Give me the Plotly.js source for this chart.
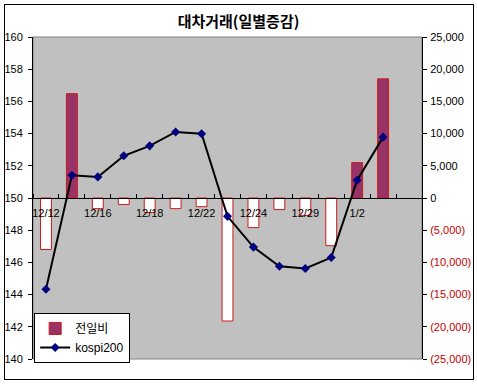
<!DOCTYPE html>
<html>
<head>
<meta charset="utf-8">
<script src="https://cdn.plot.ly/plotly-3.0.1.min.js"></script>
<style>
  html, body { margin: 0; padding: 0; background: #fff; }
  #wrap { position: relative; width: 477px; height: 384px; }
  #chart { width: 477px; height: 384px; }
  #frame { position: absolute; left: 4px; top: 4px; width: 468px; height: 374px; border: 1px solid #000; pointer-events: none; }
</style>
</head>
<body>
<div id="wrap"><div id="chart"></div><div id="frame"></div></div>
<script>
// ---- data ----
const dates = ['12/12','12/15','12/16','12/17','12/18','12/19','12/22','12/23','12/24','12/26','12/29','12/30','1/2','1/5'];
const change = [-8000, 16200, -1650, -1000, -2250, -1650, -1350, -19100, -4600, -1800, -2700, -7400, 5500, 18500];
const kospi200 = [144.33, 151.41, 151.31, 152.62, 153.24, 154.10, 153.99, 148.86, 146.95, 145.76, 145.62, 146.30, 151.10, 153.78];
const rightTicks = [-25000, -20000, -15000, -10000, -5000, 0, 5000, 10000, 15000, 20000, 25000];
const seriesNames = ['전일비', 'kospi200'];
const titleText = '대차거래(일별증감)';

// ---- derived ----
const idx = dates.map((d, i) => i);
const labelIdx = idx.filter(i => i % 2 === 0);
const labelText = labelIdx.map(i => dates[i]);
const pos = change.map(v => v > 0 ? v : null);
const neg = change.map(v => v < 0 ? v : null);
const fmt = v => {
  const s = Math.abs(v).toLocaleString('en-US');
  return v < 0 ? '<span style="color:#c00000">(' + s + ')</span>' : s;
};

const font = 'Liberation Sans, Arial, sans-serif';

const traces = [
  { type: 'bar', name: seriesNames[0], x: idx, y: pos, xaxis: 'x', yaxis: 'y', width: 0.42,
    marker: { color: '#993366', line: { color: '#cc1a1a', width: 1 } }, showlegend: true },
  { type: 'bar', name: seriesNames[0] + ' (neg)', x: idx, y: neg, xaxis: 'x', yaxis: 'y', width: 0.42,
    marker: { color: '#ffffff', line: { color: '#cc1a1a', width: 1 } }, showlegend: false },
  { type: 'scatter', mode: 'lines+markers', name: seriesNames[1], x: idx, y: kospi200, xaxis: 'x', yaxis: 'y2',
    line: { color: '#000000', width: 2 },
    marker: { symbol: 'diamond', size: 7, color: '#000080' } }
];

const layout = {
  width: 477, height: 384,
  margin: { l: 33, r: 55, t: 37, b: 25, pad: 0 },
  paper_bgcolor: '#ffffff',
  plot_bgcolor: '#c0c0c0',
  barmode: 'relative',
  showlegend: true,
  font: { family: font, size: 11, color: '#000' },
  title: { text: '<b>' + titleText + '</b>', x: 0.5, xanchor: 'center', y: 0.943, yanchor: 'middle',
           font: { family: 'Noto Sans CJK KR, sans-serif', size: 15, color: '#000' } },
  xaxis: {
    range: [-0.5, 14.5], anchor: 'free', position: 0.5,
    tickmode: 'array', tickvals: labelIdx, ticktext: labelText, ticks: '',
    ticklabelstandoff: 5,
    showline: true, linecolor: '#000', linewidth: 1,
    showgrid: false, zeroline: false,
    tickfont: { family: font, size: 11, color: '#000' },
    minor: { tickmode: 'linear', tick0: 0.5, dtick: 1, ticks: 'inside', ticklen: 4, tickcolor: '#000', tickwidth: 1, showgrid: false }
  },
  yaxis: {
    side: 'right', range: [-25000, 25000],
    tickmode: 'array', tickvals: rightTicks, ticktext: rightTicks.map(fmt),
    ticks: 'outside', ticklen: 4, tickcolor: '#000',
    ticklabelstandoff: 1,
    showline: true, linecolor: '#000', linewidth: 1,
    showgrid: false, zeroline: false,
    tickfont: { family: font, size: 11, color: '#000' }
  },
  yaxis2: {
    overlaying: 'y', side: 'left', range: [140, 160], dtick: 2, tick0: 140,
    ticks: 'outside', ticklen: 4, tickcolor: '#000',
    ticklabelstandoff: 3,
    showline: true, linecolor: '#000', linewidth: 1,
    showgrid: false, zeroline: false,
    tickfont: { family: font, size: 11, color: '#000' }
  },
  legend: {
    x: 0.003, y: 0.143, xanchor: 'left', yanchor: 'top',
    bgcolor: '#ffffff', bordercolor: '#000', borderwidth: 1,
    font: { family: 'Liberation Sans, Noto Sans CJK KR, sans-serif', size: 12, color: '#000' },
    traceorder: 'normal', itemwidth: 30
  },
  shapes: [
    { type: 'rect', xref: 'paper', yref: 'paper', x0: 0, x1: 1, y0: 0, y1: 1,
      line: { color: '#808080', width: 1 }, fillcolor: 'rgba(0,0,0,0)', layer: 'below' }
  ]
};

Plotly.newPlot('chart', traces, layout, { displayModeBar: false, staticPlot: true });
</script>
</body>
</html>
